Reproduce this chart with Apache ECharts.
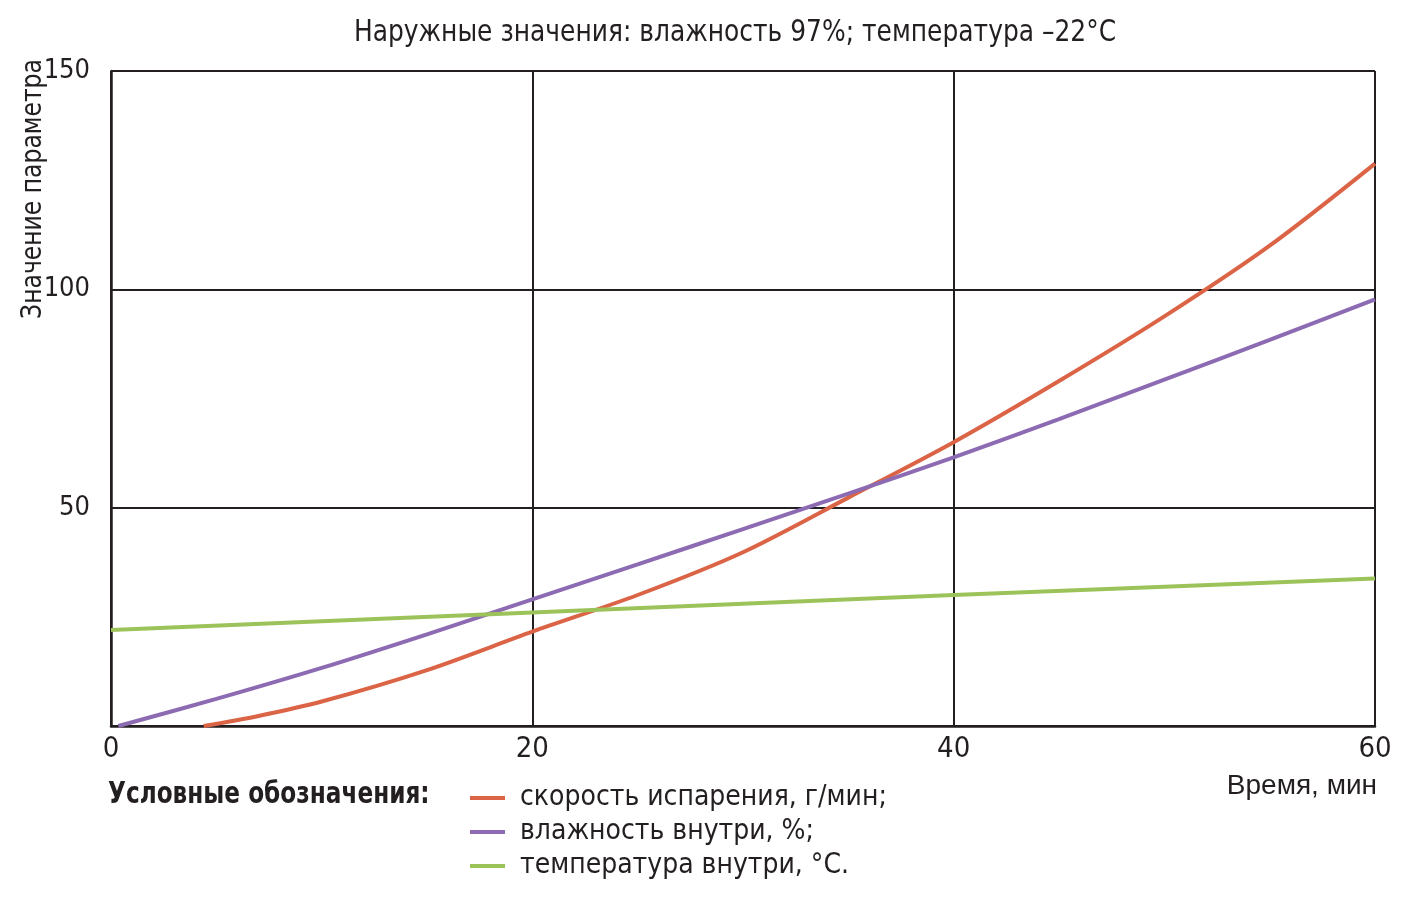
<!DOCTYPE html>
<html>
<head>
<meta charset="utf-8">
<script src="https://cdn.jsdelivr.net/npm/echarts@6/dist/echarts.min.js"></script>
<style>
  html, body { margin: 0; padding: 0; background: #fff; }
  #chart { width: 1415px; height: 897px; }
</style>
</head>
<body>
<div id="chart"></div>
<script>
// values: [time, min; value]
const evaporation = [[4.4, 0], [7, 2.3], [10, 5.6], [15, 12.8], [20, 21.6], [25, 30.0], [30, 39.8], [35, 52.3], [40, 65.0], [45, 79.0], [50, 93.8], [55, 110.0], [60, 128.8]];
const humidity = [[0.35, 0], [5, 6.2], [10, 13.3], [15, 21.0], [20, 29.0], [25, 37.0], [30, 45.1], [35, 53.2], [40, 61.5], [45, 70.3], [50, 79.3], [55, 88.4], [60, 97.7]];
const temperature = [[0, 22.0], [20, 26.0], [40, 30.0], [60, 33.8]];
const seriesNames = ['скорость испарения, г/мин;', 'влажность внутри, %;', 'температура внутри, °С.'];
const seriesColors = ['#dc6446', '#8c6bb3', '#9cc35a'];
const xTicks = [0, 20, 40, 60];
const yTicks = [50, 100, 150];

const FONT = '"Liberation Sans Narrow", "DejaVu Sans Condensed", "Roboto", sans-serif';
const INK = '#231f20';

const chart = echarts.init(document.getElementById('chart'));

const lineSeries = [evaporation, humidity, temperature].map((data, i) => ({
  name: seriesNames[i],
  type: 'line',
  data,
  smooth: i < 2 ? 0.3 : false,
  showSymbol: false,
  lineStyle: { color: seriesColors[i], width: 4 },
  itemStyle: { color: seriesColors[i] },
  z: 5
}));

chart.setOption({
  backgroundColor: '#fff',
  animation: false,
  grid: { left: 111, right: 40, top: 71, bottom: 171, containLabel: false },
  xAxis: {
    type: 'value', min: 0, max: 60, interval: 20,
    axisLine: { lineStyle: { color: INK, width: 2.5 } },
    axisTick: { show: false },
    splitLine: { lineStyle: { color: INK, width: 2 } },
    axisLabel: {
      margin: 9, fontFamily: FONT, fontSize: 29, color: INK,
      formatter: (v) => xTicks.includes(v) ? String(v) : ''
    }
  },
  yAxis: {
    type: 'value', min: 0, max: 150, interval: 50,
    axisLine: { show: true, lineStyle: { color: INK, width: 2.5 } },
    axisTick: { show: false },
    splitLine: { lineStyle: { color: INK, width: 2 } },
    axisLabel: {
      margin: 21, fontFamily: FONT, fontSize: 27, color: INK,
      formatter: (v) => yTicks.includes(v) ? String(v) : ''
    }
  },
  legend: {
    orient: 'vertical', left: 465, top: 776,
    icon: 'rect', itemWidth: 35, itemHeight: 4, itemGap: 0,
    data: seriesNames,
    textStyle: { fontFamily: FONT, fontSize: 28, color: INK, padding: [0, 0, 0, 10], lineHeight: 34 }
  },
  graphic: [
    {
      type: 'text', x: 735, y: 33, scaleX: 0.895,
      style: { text: 'Наружные значения: влажность 97%; температура –22°C', font: '31px ' + FONT, fill: INK, align: 'center', verticalAlign: 'middle' }
    },
    {
      type: 'text', x: 108, y: 795, scaleX: 0.86,
      style: { text: 'Условные обозначения:', font: 'bold 30px ' + FONT, fill: INK, align: 'left', verticalAlign: 'middle' }
    },
    {
      type: 'text', x: 33, y: 189, rotation: Math.PI / 2, scaleX: 0.9,
      style: { text: 'Значение параметра', font: '29px ' + FONT, fill: INK, align: 'center', verticalAlign: 'middle' }
    },
    {
      type: 'text', x: 1377, y: 786,
      style: { text: 'Время, мин', font: '28px "Liberation Sans", Arial, sans-serif', fill: INK, align: 'right', verticalAlign: 'middle' }
    }
  ],
  series: lineSeries
});
</script>
</body>
</html>
